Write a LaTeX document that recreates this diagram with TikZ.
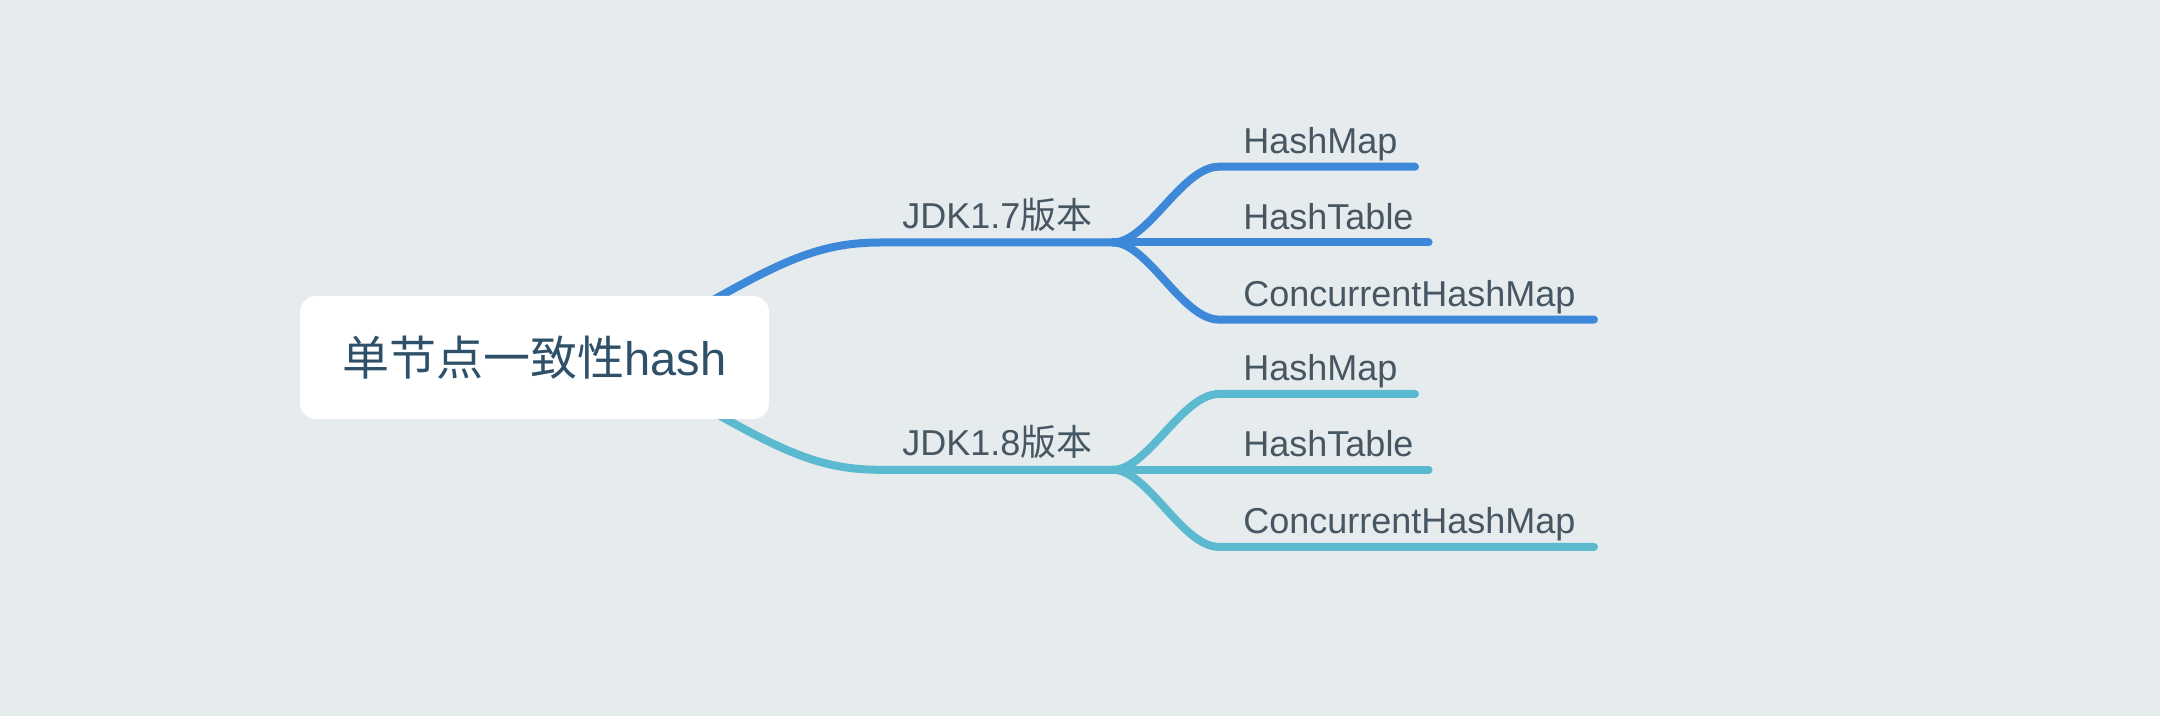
\documentclass[tikz,border=0pt]{standalone}
\usepackage{fontspec}
\setmainfont{Liberation Sans}
\newfontfamily\cjk{Noto Sans CJK SC}
\definecolor{bg}{HTML}{E6EBEE}
\definecolor{blueA}{HTML}{3D88D8}
\definecolor{blueB}{HTML}{5CBAD0}
\definecolor{txt}{HTML}{465763}
\definecolor{roottxt}{HTML}{2E5169}
\begin{document}
\begin{tikzpicture}[x=0.5pt,y=-0.5pt,
 br/.style={line width=4pt, line cap=round},
 lbl/.style={anchor=base west, inner sep=0pt, text=txt, font=\fontsize{18}{20}\selectfont},
 rootbox/.style={fill=white, rounded corners=8pt, minimum width=234.5pt, minimum height=61.5pt, inner sep=0pt, text=roottxt, font=\fontsize{23.5}{26}\selectfont}]
\fill[bg] (0,0) rectangle (2160,716);
\useasboundingbox (0,0) rectangle (2160,716);
% coordinates
\coordinate (s7) at (660,330);
\coordinate (b7) at (1113,242.5);
\coordinate (e71) at (1415,166.7);
\coordinate (e72) at (1428.6,242.5);
\coordinate (e73) at (1594,319.6);
\coordinate (s8) at (660,382);
\coordinate (b8) at (1113,469.8);
\coordinate (e81) at (1415,394);
\coordinate (e82) at (1428.6,469.8);
\coordinate (e83) at (1594,546.9);
% upper branch
\draw[br,blueA] (s7) .. controls (770,268) and (810,242.5) .. (880,242.5) -- (b7);
\draw[br,blueA] (b7) .. controls (1148,242.5) and (1182,166.7) .. (1219,166.7) -- (e71);
\draw[br,blueA] (b7) -- (e72);
\draw[br,blueA] (b7) .. controls (1148,242.5) and (1182,319.6) .. (1219,319.6) -- (e73);
% lower branch
\draw[br,blueB] (s8) .. controls (770,444) and (810,469.8) .. (880,469.8) -- (b8);
\draw[br,blueB] (b8) .. controls (1148,469.8) and (1182,394) .. (1219,394) -- (e81);
\draw[br,blueB] (b8) -- (e82);
\draw[br,blueB] (b8) .. controls (1148,469.8) and (1182,546.9) .. (1219,546.9) -- (e83);
% root
\node[rootbox] (root) at (534.5,357.5) {{\cjk 单节点一致性}hash};
% labels
\node[lbl] (j7) at (902,228.5) {JDK1.7{\cjk 版本}};
\node[lbl] (l71) at (1243,153.5) {HashMap};
\node[lbl] (l72) at (1243,229.5) {HashTable};
\node[lbl] (l73) at (1243,306.5) {ConcurrentHashMap};
\node[lbl] (j8) at (902,455.8) {JDK1.8{\cjk 版本}};
\node[lbl] (l81) at (1243,381) {HashMap};
\node[lbl] (l82) at (1243,456.8) {HashTable};
\node[lbl] (l83) at (1243,533.9) {ConcurrentHashMap};
\end{tikzpicture}
\end{document}
